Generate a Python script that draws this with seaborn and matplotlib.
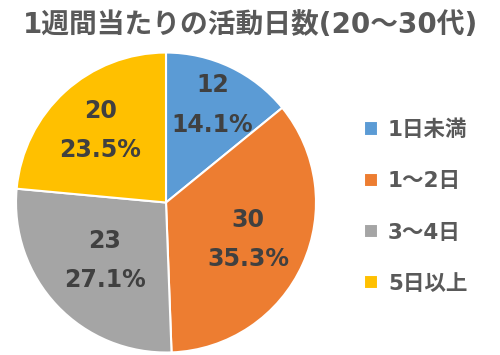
import matplotlib
matplotlib.use("Agg")
import matplotlib.pyplot as plt
import seaborn as sns
import numpy as np

### Data
categories = ["1日未満", "1～2日", "3～4日", "5日以上"]
counts = [12, 30, 23, 20]
percents = [14.1, 35.3, 27.1, 23.5]
colors = ["#5B9BD5", "#ED7D31", "#A5A5A5", "#FFC000"]
title = "1週間当たりの活動日数(20～30代)"

# label distance from centre, per slice (Excel best-fit placement)
label_dist = [0.72, 0.6, 0.56, 0.65]

sns.set_theme(style="white")
plt.rcParams['font.family'] = ['DejaVu Sans', 'Noto Sans CJK JP']

fig = plt.figure(figsize=(5, 3.55), dpi=100)
ax = fig.add_axes([0.032, 0.007, 0.6, 0.845])

labels = [f"{c}\n{p:.1f}%" for c, p in zip(counts, percents)]
wedges, texts = ax.pie(counts, colors=colors, startangle=90, counterclock=False,
                       labels=labels, labeldistance=0.7,
                       wedgeprops=dict(edgecolor="white", linewidth=1.5),
                       textprops=dict(color="#404040", fontsize=17, fontweight="bold",
                                      ha="center", va="center", linespacing=1.8))
for w, t, d in zip(wedges, texts, label_dist):
    ang = np.deg2rad((w.theta1 + w.theta2) / 2)
    t.set_position((d * np.cos(ang), d * np.sin(ang)))
    t.set_ha("center")
ax.set_xlim(-1, 1)
ax.set_ylim(-1, 1)
ax.set_aspect("equal")

fig.text(0.5, 0.93, title, ha="center", va="center", fontsize=20,
         fontweight="bold", color="#595959")

leg = fig.legend(wedges, categories, loc="center left", bbox_to_anchor=(0.69, 0.418),
                 frameon=False, handlelength=0.65, handleheight=0.65, handletextpad=0.45,
                 labelspacing=1.45, prop=dict(size=15.5, weight="bold"))
for t in leg.get_texts():
    t.set_color("#595959")

fig.savefig("out.png", dpi=100)
